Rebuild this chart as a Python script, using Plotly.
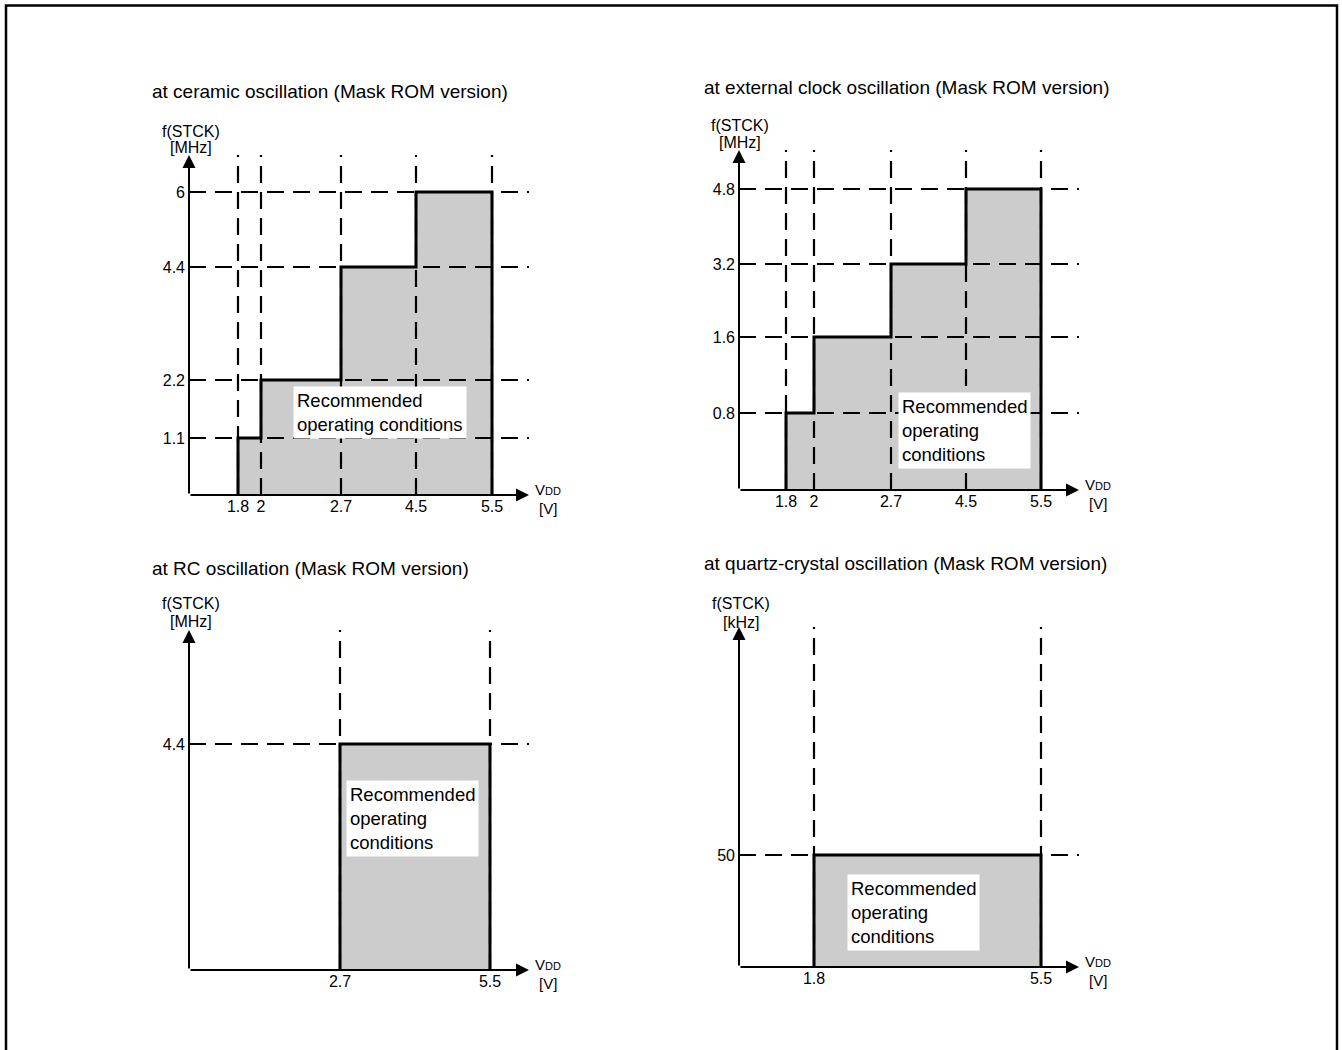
import plotly.graph_objects as go

# Operating ranges
# ceramic oscillation
cer_volts = [1.8, 2, 2.7, 4.5, 5.5]
cer_freqs = [1.1, 2.2, 4.4, 6]
# external clock oscillation
ext_volts = [1.8, 2, 2.7, 4.5, 5.5]
ext_freqs = [0.8, 1.6, 3.2, 4.8]
# RC oscillation
rc_volts = [2.7, 5.5]
rc_freqs = [4.4]
# quartz-crystal oscillation
xtal_volts = [1.8, 5.5]
xtal_freqs = [50]

titles = ["at ceramic oscillation (Mask ROM version)",
          "at external clock oscillation (Mask ROM version)",
          "at RC oscillation (Mask ROM version)",
          "at quartz-crystal oscillation (Mask ROM version)"]
units = ["[MHz]", "[MHz]", "[MHz]", "[kHz]"]

FIG_W, FIG_H = 1342, 1050
S = 340  # axis length in px (1 axis unit = 1 px)
FONT = "Liberation Sans, Arial, sans-serif"
FILL = "#cccccc"

# The drawing is schematic, so each value sits at a fixed slot on its axis
layout_specs = [
    dict(volts=cer_volts, freqs=cer_freqs, origin=(189, 495),
         xslot=[49, 72, 152, 227, 303], yslot=[57, 115, 228, 303],
         title=(150, 91), ylab=(191, 132, 147), box=(293, 386)),
    dict(volts=ext_volts, freqs=ext_freqs, origin=(739, 490),
         xslot=[47, 75, 152, 227, 302], yslot=[77, 153, 226, 301],
         title=(702, 88), ylab=(740, 125, 142), box=(898, 392)),
    dict(volts=rc_volts, freqs=rc_freqs, origin=(189, 970),
         xslot=[151, 301], yslot=[226],
         title=(150, 568), ylab=(191, 603, 621), box=(346, 780)),
    dict(volts=xtal_volts, freqs=xtal_freqs, origin=(739, 967),
         xslot=[75, 302], yslot=[112],
         title=(702, 563), ylab=(741, 603, 622), box=(847, 874)),
]


def px(x):
    return x / FIG_W


def py(y):
    return 1 - y / FIG_H


def fmt(v):
    return f"{v:g}"


fig = go.Figure()
annotations = []
shapes = []

for i, spec in enumerate(layout_specs, start=1):
    xa = "x" if i == 1 else f"x{i}"
    ya = "y" if i == 1 else f"y{i}"
    ox, oy = spec["origin"]
    xs, ys = spec["xslot"], spec["yslot"]

    # step outline of the recommended region
    step_x, step_y = [xs[0]], [0]
    for k in range(len(spec["freqs"])):
        step_x += [xs[k], xs[k + 1]]
        step_y += [ys[k], ys[k]]
    step_x.append(xs[-1])
    step_y.append(0)

    fig.add_trace(go.Scatter(x=step_x, y=step_y, xaxis=xa, yaxis=ya,
                             mode="lines", fill="toself", fillcolor=FILL,
                             line=dict(width=0), hoverinfo="skip",
                             showlegend=False))

    # dashed guide lines
    gx, gy = [], []
    for p in xs:
        gx += [p, p, None]
        gy += [0, S, None]
    for p in ys:
        gx += [0, S, None]
        gy += [p, p, None]
    fig.add_trace(go.Scatter(x=gx, y=gy, xaxis=xa, yaxis=ya, mode="lines",
                             line=dict(color="black", width=2.2,
                                       dash="17px,9px"),
                             hoverinfo="skip", showlegend=False))

    fig.add_trace(go.Scatter(x=step_x, y=step_y, xaxis=xa, yaxis=ya,
                             mode="lines", line=dict(color="black", width=3),
                             hoverinfo="skip", showlegend=False))

    axis_common = dict(range=[0, S], showgrid=False, zeroline=False,
                       showline=False, ticks="", fixedrange=True,
                       tickfont=dict(family=FONT, size=16, color="black"))
    fig.update_layout({
        f"xaxis{'' if i == 1 else i}": dict(
            axis_common, domain=[px(ox), px(ox + S)], anchor=ya,
            tickvals=xs, ticktext=[fmt(v) for v in spec["volts"]]),
        f"yaxis{'' if i == 1 else i}": dict(
            axis_common, domain=[py(oy), py(oy - S)], anchor=xa,
            ticklabelstandoff=3,
            tickvals=ys, ticktext=[fmt(v) for v in spec["freqs"]]),
    })

    # axes with arrowheads
    for tx, ty in [(S, 0), (0, S)]:
        annotations.append(dict(x=tx, y=ty, ax=0, ay=0, xref=xa, yref=ya,
                                axref=xa, ayref=ya, text="", showarrow=True,
                                arrowhead=2, arrowsize=1.3, arrowwidth=2,
                                arrowcolor="black", standoff=0))

    # panel title
    tx, tyy = spec["title"]
    annotations.append(dict(x=px(tx), y=py(tyy), xref="paper", yref="paper",
                            xanchor="left", yanchor="middle", showarrow=False,
                            text=titles[i - 1],
                            font=dict(family=FONT, size=19, color="black")))

    # y axis label
    lx, l1, l2 = spec["ylab"]
    for txt, yy in [("f(STCK)", l1), (units[i - 1], l2)]:
        annotations.append(dict(x=px(lx), y=py(yy), xref="paper",
                                yref="paper", xanchor="center",
                                yanchor="middle", showarrow=False, text=txt,
                                font=dict(family=FONT, size=16,
                                          color="black")))

    # x axis label
    vx = ox + S + 19
    annotations.append(dict(x=px(vx), y=py(oy - 6), xref="paper",
                            yref="paper", xanchor="center", yanchor="middle",
                            showarrow=False,
                            text="V<span style='font-size:11px'>DD</span>",
                            font=dict(family=FONT, size=15, color="black")))
    annotations.append(dict(x=px(vx), y=py(oy + 13), xref="paper",
                            yref="paper", xanchor="center", yanchor="middle",
                            showarrow=False, text="[V]",
                            font=dict(family=FONT, size=15, color="black")))

    # label box
    bx, by = spec["box"]
    label = ("Recommended<br>operating conditions" if i == 1
             else "Recommended<br>operating<br>conditions")
    annotations.append(dict(x=px(bx), y=py(by), xref="paper", yref="paper",
                            xanchor="left", yanchor="top", showarrow=False,
                            text=label, align="left", bgcolor="white",
                            borderpad=3,
                            font=dict(family=FONT, size=18.5,
                                      color="black")))

# outer frame
shapes.append(dict(type="rect", xref="paper", yref="paper",
                   x0=px(6), x1=px(1337), y0=py(1060), y1=py(5.5),
                   line=dict(color="black", width=2.5)))

fig.update_layout(width=FIG_W, height=FIG_H,
                  margin=dict(l=0, r=0, t=0, b=0),
                  paper_bgcolor="white", plot_bgcolor="rgba(0,0,0,0)",
                  font=dict(family=FONT, color="black"),
                  annotations=annotations, shapes=shapes,
                  showlegend=False)

fig.write_html("out.html", config={"displayModeBar": False},
               post_script="document.body.style.margin='0';")
